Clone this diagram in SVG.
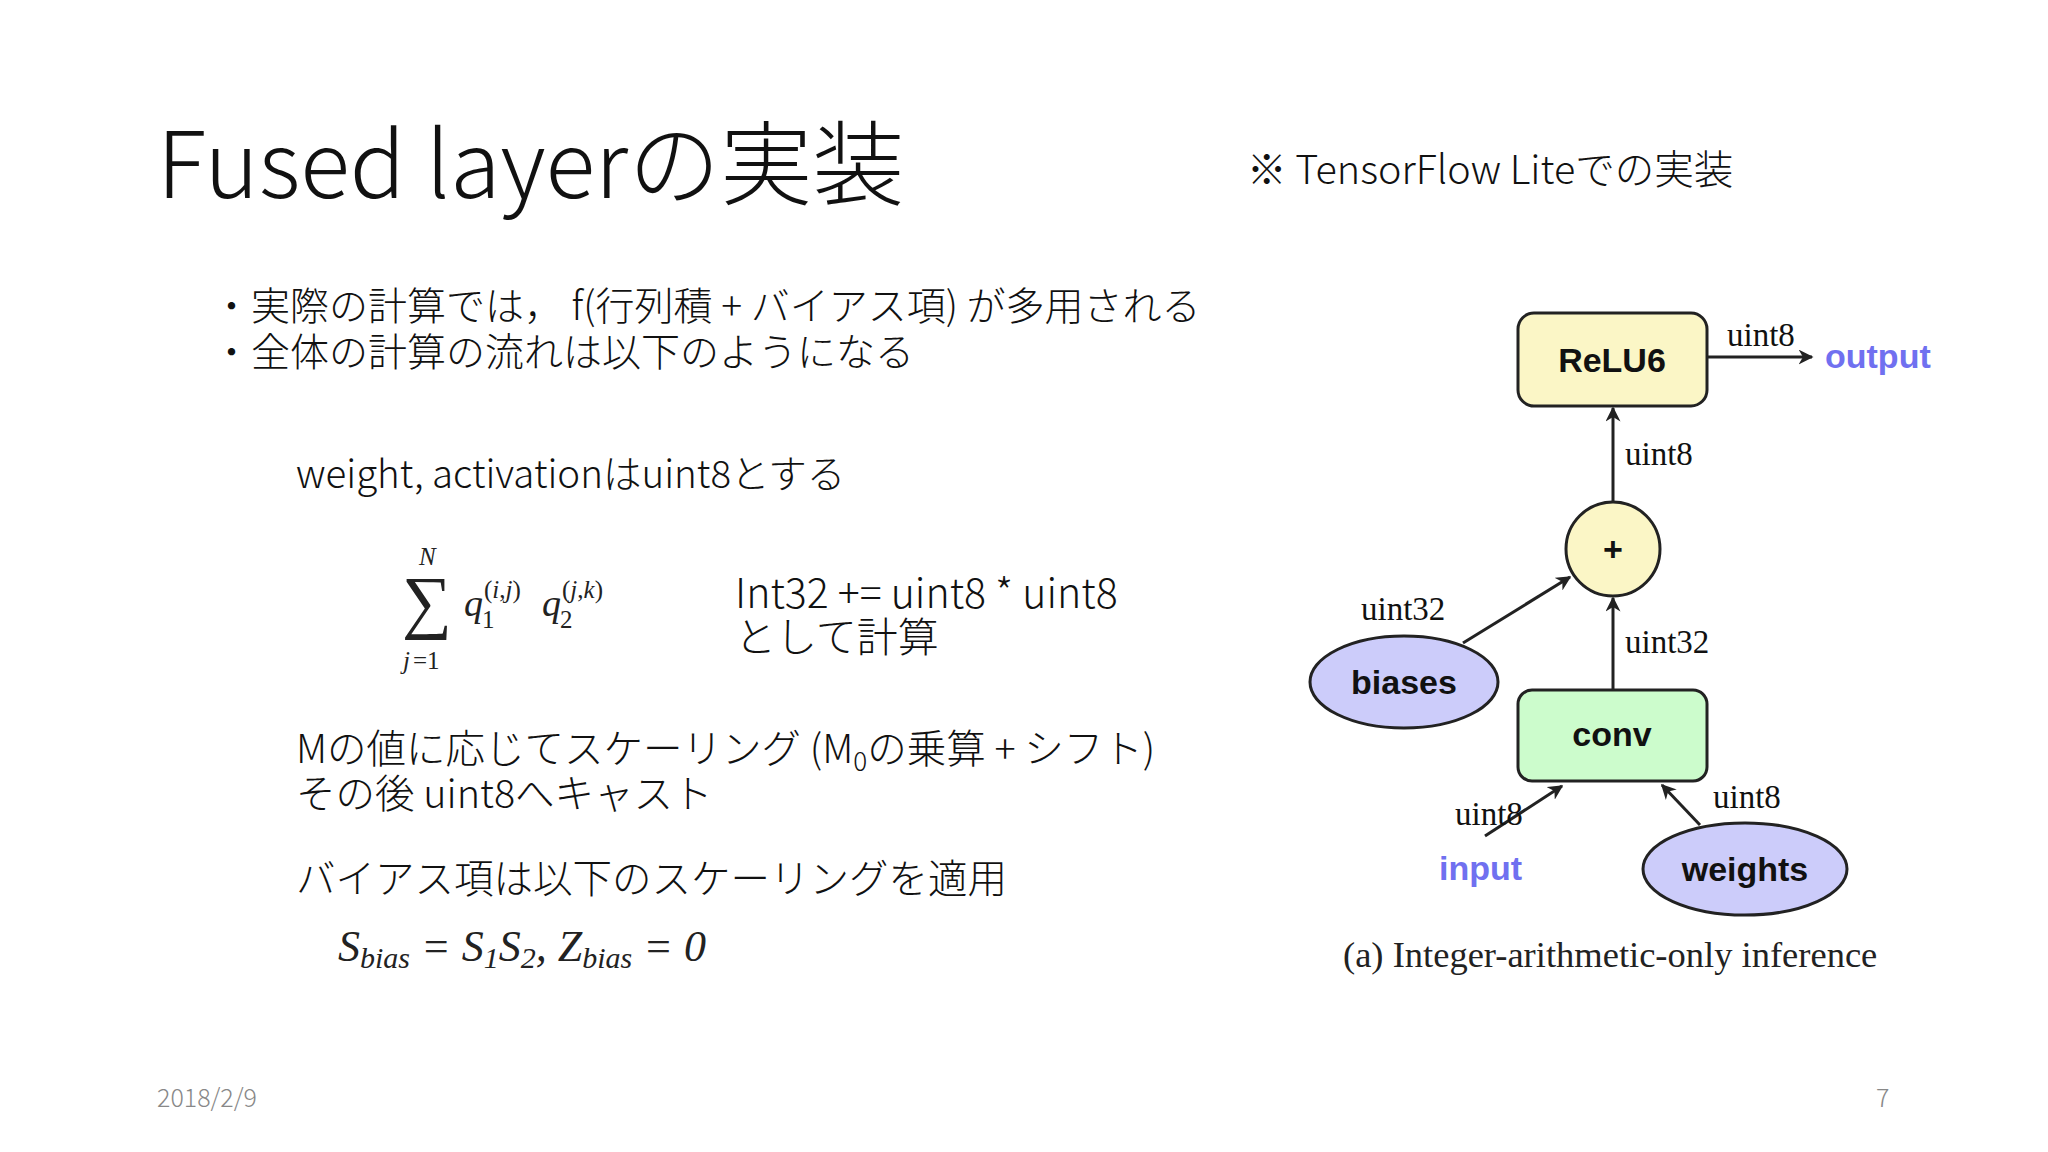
<svg xmlns="http://www.w3.org/2000/svg" width="2048" height="1152" viewBox="0 0 2048 1152">
<style>
.jp{font-family:"Noto Sans CJK JP","Noto Sans",sans-serif;font-weight:300;fill:#111}
.m{font-family:"Liberation Serif",serif;fill:#222}
.mi{font-family:"Liberation Serif",serif;font-style:italic;fill:#222}
.nd{font-family:"Liberation Sans",Arial,sans-serif;font-weight:bold;font-size:34px;fill:#111;text-anchor:middle}
.el{font-family:"Liberation Serif",serif;font-size:33px;fill:#111}
.bl{font-family:"Liberation Sans",Arial,sans-serif;font-weight:bold;font-size:34px;fill:#7070f0}
.sh{stroke:#222;stroke-width:3}
.cn{stroke:#222;stroke-width:3;fill:none;marker-end:url(#a)}
</style>
<defs><marker id="a" viewBox="0 0 10 10" refX="9" refY="5" markerWidth="5" markerHeight="5" orient="auto"><path d="M0,0 L10,5 L0,10 L3,5 z" fill="#222"/></marker></defs>
<rect width="2048" height="1152" fill="#fff"/>
<text class="jp" x="157" y="198" font-size="92">Fused layerの実装</text>
<text class="jp" x="1247" y="184" font-size="39.5">※ TensorFlow Liteでの実装</text>
<text class="jp" x="212" y="320" font-size="39">・実際の計算では， f(行列積 + バイアス項) が多用される</text>
<text class="jp" x="212" y="366" font-size="39">・全体の計算の流れは以下のようになる</text>
<text class="jp" x="296" y="488" font-size="38.5">weight, activationはuint8とする</text>
<g id="sum">
<text class="m" x="402" y="625" font-size="70">∑</text>
<text class="mi" x="419" y="565" font-size="25">N</text>
<text class="mi" x="403" y="669" font-size="25">j</text><text class="m" x="413" y="669" font-size="25">=1</text>
<text class="mi" x="464" y="616" font-size="38">q</text><text class="m" x="482" y="628" font-size="25">1</text>
<text class="m" x="484" y="598" font-size="25">(<tspan class="mi">i</tspan>,<tspan class="mi">j</tspan>)</text>
<text class="mi" x="542" y="616" font-size="38">q</text><text class="m" x="560" y="628" font-size="25">2</text>
<text class="m" x="562" y="598" font-size="25">(<tspan class="mi">j</tspan>,<tspan class="mi">k</tspan>)</text>
</g>
<text class="jp" x="735" y="608" font-size="41">Int32 += uint8 * uint8</text>
<text class="jp" x="735" y="652" font-size="41">として計算</text>
<text class="jp" x="296" y="763" font-size="39.5">Mの値に応じてスケーリング (M<tspan font-size="26" dy="8">0</tspan><tspan dy="-8">の乗算 + シフト)</tspan></text>
<text class="jp" x="296" y="808" font-size="39.5">その後 uint8へキャスト</text>
<text class="jp" x="296" y="893" font-size="39.5">バイアス項は以下のスケーリングを適用</text>
<text class="mi" x="338" y="961" font-size="44">S<tspan font-size="30" dy="7">bias</tspan><tspan class="m" dy="-7"> = </tspan>S<tspan class="m" font-size="30" dy="7">1</tspan><tspan dy="-7">S</tspan><tspan class="m" font-size="30" dy="7">2</tspan><tspan class="m" dy="-7">, </tspan>Z<tspan font-size="30" dy="7">bias</tspan><tspan class="m" dy="-7"> = 0</tspan></text>
<text class="jp" x="157" y="1107" font-size="25" style="fill:#888">2018/2/9</text>
<text class="jp" x="1876" y="1107" font-size="25" style="fill:#888">7</text>
<g id="connectors">
<line class="cn" x1="1707" y1="357" x2="1812" y2="357"/>
<line class="cn" x1="1613" y1="501" x2="1613" y2="408"/>
<line class="cn" x1="1463" y1="643" x2="1570" y2="577"/>
<line class="cn" x1="1613" y1="690" x2="1613" y2="598"/>
<line class="cn" x1="1485" y1="836" x2="1562" y2="786"/>
<line class="cn" x1="1700" y1="825" x2="1662" y2="785"/>
<text class="el" x="1727" y="346">uint8</text>
<text class="el" x="1625" y="465">uint8</text>
<text class="el" x="1361" y="620">uint32</text>
<text class="el" x="1625" y="653">uint32</text>
<text class="el" x="1455" y="825">uint8</text>
<text class="el" x="1713" y="808">uint8</text>
</g>
<g id="relu6"><rect class="sh" x="1518" y="313" width="189" height="93" rx="16" fill="#fbf6c6"/><text class="nd" x="1612" y="372">ReLU6</text></g>
<g id="output"><text class="bl" x="1825" y="368">output</text></g>
<g id="plus"><circle class="sh" cx="1613" cy="549" r="47" fill="#fbf6c6"/><text class="nd" x="1613" y="561" font-size="30">+</text></g>
<g id="biases"><ellipse class="sh" cx="1404" cy="682" rx="94" ry="46" fill="#ccccfa"/><text class="nd" x="1404" y="694">biases</text></g>
<g id="conv"><rect class="sh" x="1518" y="690" width="189" height="91" rx="14" fill="#ccfccc"/><text class="nd" x="1612" y="746">conv</text></g>
<g id="input"><text class="bl" x="1439" y="880">input</text></g>
<g id="weights"><ellipse class="sh" cx="1745" cy="869" rx="102" ry="46" fill="#ccccfa"/><text class="nd" x="1745" y="881">weights</text></g>
<text class="m" x="1343" y="967" font-size="36.5">(a) Integer-arithmetic-only inference</text>
</svg>
